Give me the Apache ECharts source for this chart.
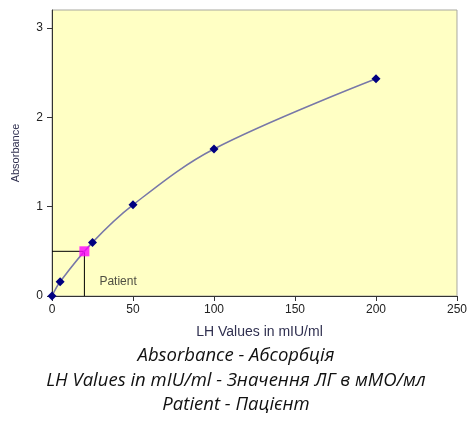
<!DOCTYPE html>
<html>
<head>
<meta charset="UTF-8">
<title>LH standard curve</title>
<script src="https://cdn.jsdelivr.net/npm/echarts@6/dist/echarts.min.js"></script>
<style>
  html, body { margin: 0; padding: 0; background: #fff; }
</style>
</head>
<body>
<div id="main" style="width:470px;height:423px;"></div>
<script>
  // standard points
  var lhValues = [0, 5, 25, 50, 100, 200];
  var absorbance = [0, 0.16, 0.6, 1.02, 1.645, 2.43];
  // patient sample
  var patientLH = 20;
  var patientAbs = 0.5;
  var xTicks = [0, 50, 100, 150, 200, 250];
  var yTicks = [0, 1, 2, 3];
  var captions = [
    'Absorbance - Абсорбція',
    'LH Values in mIU/ml - Значення ЛГ в мМО/мл',
    'Patient - Пацієнт'
  ];

  var curve = lhValues.map(function (v, i) { return [v, absorbance[i]]; });
  var guide = [[0, patientAbs], [patientLH, patientAbs], [patientLH, 0]];

  var myChart = echarts.init(document.getElementById('main'));

  var option = {
    animation: false,
    grid: {
      left: 52, top: 10, right: 8, bottom: 127,
      show: true,
      backgroundColor: '#ffffc4',
      borderColor: '#a8a8a0',
      borderWidth: 1
    },
    xAxis: {
      type: 'value',
      min: xTicks[0], max: xTicks[xTicks.length - 1], interval: 50,
      name: 'LH Values in mIU/ml',
      nameLocation: 'middle',
      nameGap: 29,
      nameTextStyle: { fontFamily: 'Liberation Sans', fontSize: 14, color: '#303050', padding: [0, 0, 0, 10] },
      axisLine: { lineStyle: { color: '#333', width: 1 } },
      axisTick: { length: 5, lineStyle: { color: '#333' } },
      axisLabel: { fontFamily: 'Liberation Sans', fontSize: 12, color: '#222', margin: 8 },
      splitLine: { show: false }
    },
    yAxis: {
      type: 'value',
      min: yTicks[0], max: 3.2, interval: 1,
      name: 'Absorbance',
      nameLocation: 'middle',
      nameGap: 31,
      nameRotate: 90,
      nameTextStyle: { fontFamily: 'Liberation Sans', fontSize: 11, color: '#303050' },
      axisLine: { show: true, lineStyle: { color: '#333', width: 1 } },
      axisTick: { show: true, length: 5, lineStyle: { color: '#333' } },
      axisLabel: { fontFamily: 'Liberation Sans', fontSize: 12, color: '#222', margin: 9, showMaxLabel: false },
      splitLine: { show: false }
    },
    series: [
      {
        name: 'guide',
        type: 'line',
        data: guide,
        symbol: 'none',
        lineStyle: { color: '#000', width: 1 },
        z: 1
      },
      {
        name: 'standard',
        type: 'line',
        data: curve,
        smooth: 0.35,
        symbol: 'diamond',
        symbolSize: 9,
        itemStyle: { color: '#000080' },
        lineStyle: { color: '#7878a8', width: 1.5 },
        z: 2
      },
      {
        name: 'patient',
        type: 'scatter',
        data: [[patientLH, patientAbs]],
        symbol: 'rect',
        symbolSize: 10,
        itemStyle: { color: '#ff00ff' },
        label: {
          show: true,
          formatter: 'Patient',
          position: [20, 29],
          fontFamily: 'Liberation Sans',
          fontSize: 12,
          color: '#222'
        },
        z: 3
      }
    ],
    graphic: captions.map(function (t, i) {
      return {
        type: 'text',
        x: 236, y: 356 + i * 24.5,
        style: {
          text: t,
          font: 'italic 18.5px "Open Sans"',
          fill: '#111',
          textAlign: 'center',
          textVerticalAlign: 'middle'
        }
      };
    })
  };

  myChart.setOption(option);
</script>
</body>
</html>
